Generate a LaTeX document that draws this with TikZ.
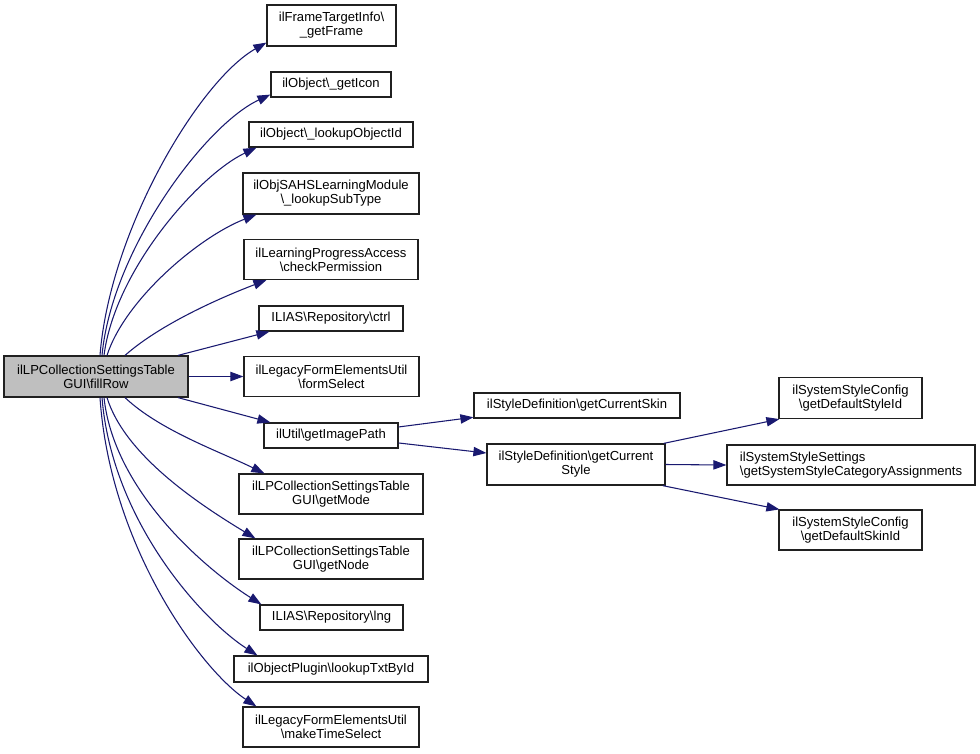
\documentclass[tikz,border=0pt]{standalone}
\usepackage{fontspec}
\setmainfont{Liberation Sans}
\usetikzlibrary{arrows.meta}
\definecolor{edgeblue}{HTML}{191970}
\definecolor{boxgray}{HTML}{BFBFBF}
\definecolor{boxline}{HTML}{202020}
\newcommand{\bs}{\textbackslash{}}
\begin{document}
\begin{tikzpicture}[x=0.75pt,y=-0.75pt,
  fn/.style={draw=boxline, line width=0.9pt, fill=white, inner xsep=2pt, inner ysep=0pt,
    align=center, font=\fontsize{9.8}{10.5}\selectfont},
  edge/.style={draw=edgeblue, line width=0.8pt, -{Triangle[length=9.75pt,width=7pt]}, fill=none}]
\useasboundingbox (0,0) rectangle (980,753);
\fill[white] (0,0) rectangle (980,753);
% main node
\node[fn, fill=boxgray, minimum width=138pt, minimum height=30.75pt] (main) at (96,376.5) {ilLPCollectionSettingsTable\\GUI\bs fillRow};
% level 1
\node[fn, minimum width=96.75pt, minimum height=30.75pt] (n1) at (331.5,25.5) {ilFrameTargetInfo\bs\\\_getFrame};
\node[fn, minimum width=90pt, minimum height=18.75pt] (n2) at (331,84.5) {ilObject\bs\_getIcon};
\node[fn, minimum width=123pt, minimum height=18.75pt] (n3) at (331,134.5) {ilObject\bs\_lookupObjectId};
\node[fn, minimum width=132pt, minimum height=30.75pt] (n4) at (331,193.5) {ilObjSAHSLearningModule\\\bs\_lookupSubType};
\node[fn, minimum width=130.5pt, minimum height=30pt] (n5) at (331,259.5) {ilLearningProgressAccess\\\bs checkPermission};
\node[fn, minimum width=108pt, minimum height=18.75pt] (n6) at (331,318.5) {ILIAS\bs Repository\bs ctrl};
\node[fn, minimum width=131.25pt, minimum height=30pt] (n7) at (331.5,376.5) {ilLegacyFormElementsUtil\\\bs formSelect};
\node[fn, minimum width=100.5pt, minimum height=18.75pt] (n8) at (331,435.5) {ilUtil\bs getImagePath};
\node[fn, minimum width=138pt, minimum height=30pt] (n9) at (331,494) {ilLPCollectionSettingsTable\\GUI\bs getMode};
\node[fn, minimum width=138pt, minimum height=30pt] (n10) at (331,559) {ilLPCollectionSettingsTable\\GUI\bs getNode};
\node[fn, minimum width=107.25pt, minimum height=18.75pt] (n11) at (331.5,617.5) {ILIAS\bs Repository\bs lng};
\node[fn, minimum width=145.5pt, minimum height=19.5pt] (n12) at (331,669) {ilObjectPlugin\bs lookupTxtById};
\node[fn, minimum width=132pt, minimum height=30pt] (n13) at (331,727) {ilLegacyFormElementsUtil\\\bs makeTimeSelect};
% level 2
\node[fn, minimum width=154.5pt, minimum height=18.75pt] (m1) at (577,405.5) {ilStyleDefinition\bs getCurrentSkin};
\node[fn, minimum width=133.5pt, minimum height=30.75pt] (m2) at (576,464.5) {ilStyleDefinition\bs getCurrent\\Style};
% level 3
\node[fn, minimum width=107.25pt, minimum height=30.75pt] (r1) at (850.5,398) {ilSystemStyleConfig\\\bs getDefaultStyleId};
\node[fn, align=left, minimum width=186pt, minimum height=30pt] (r2) at (851,465) {ilSystemStyleSettings\\\bs getSystemStyleCategoryAssignments};
\node[fn, minimum width=107.25pt, minimum height=30pt] (r3) at (850.5,530) {ilSystemStyleConfig\\\bs getDefaultSkinId};
% edges from main, upward
\draw[edge] ([xshift=3pt]main.north) .. controls +(10,-126) and +(-67,38) .. ([yshift=3pt]n1.south west);
\draw[edge] ([xshift=4.5pt]main.north) .. controls +(10,-106) and +(-65,30) .. ([yshift=2.25pt]n2.south west);
\draw[edge] ([xshift=6pt]main.north) .. controls +(11,-86) and +(-57,27) .. ([xshift=6pt]n3.south west);
\draw[edge] ([xshift=8.25pt]main.north) .. controls +(18,-56) and +(-57,22) .. ([xshift=10.5pt]n4.south west);
\draw[edge] ([xshift=21.75pt]main.north) .. controls +(35,-31) and +(-47,18) .. ([xshift=17.25pt]n5.south west);
\draw[edge] ([xshift=61.5pt]main.north) -- ([xshift=8.25pt]n6.south west);
\draw[edge] (main.east) -- (n7.west);
% downward
\draw[edge] ([xshift=61.5pt]main.south) -- ([xshift=5.25pt]n8.north west);
\draw[edge] ([xshift=21.75pt]main.south) .. controls +(35,33) and +(-45,-22) .. ([xshift=19.5pt]n9.north west);
\draw[edge] ([xshift=8.25pt]main.south) .. controls +(18,58) and +(-56,-34) .. ([xshift=12.75pt]n10.north west);
\draw[edge] ([xshift=6pt]main.south) .. controls +(10,93) and +(-57,-36) .. ([xshift=1.5pt]n11.north west);
\draw[edge] ([xshift=4.5pt]main.south) .. controls +(10,123) and +(-56,-36) .. ([xshift=18pt]n12.north west);
\draw[edge] ([xshift=3pt]main.south) .. controls +(10,148) and +(-56,-37) .. ([xshift=10.5pt]n13.north west);
% level 2 edges
\draw[edge] ([yshift=6.4pt]n8.east) -- ([yshift=1pt]m1.south west);
\draw[edge] ([yshift=-5.6pt]n8.east) -- ([yshift=8.6pt]m2.west);
% level 3 edges
\draw[edge] ([xshift=-1.5pt]m2.north east) -- ([xshift=0.75pt]r1.south west);
\draw[edge] (m2.east) -- (r2.west);
\draw[edge] ([xshift=-2.25pt]m2.south east) -- ([xshift=0.75pt]r3.north west);
\end{tikzpicture}
\end{document}
